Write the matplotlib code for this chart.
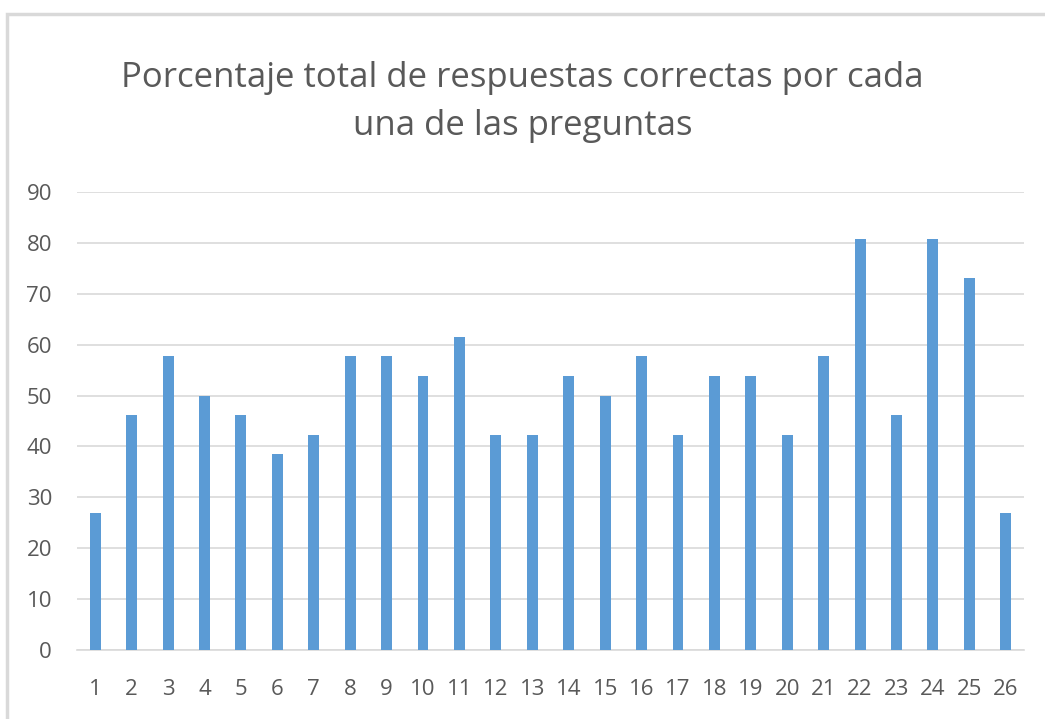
import matplotlib.pyplot as plt
from matplotlib.patches import Rectangle

# Data: percentage of correct answers per question
preguntas = [str(i) for i in range(1, 27)]
porcentaje = [26.9, 46.2, 57.7, 50.0, 46.2, 38.5, 42.3, 57.7, 57.7, 53.8,
              61.5, 42.3, 42.3, 53.8, 50.0, 57.7, 42.3, 53.8, 53.8, 42.3,
              57.7, 80.8, 46.2, 80.8, 73.1, 26.9]
yticks = list(range(0, 100, 10))

plt.rcParams['font.family'] = ['Open Sans', 'DejaVu Sans']
text_color = '#595959'
grid_color = '#d9d9d9'

fig = plt.figure(figsize=(10.45, 7.19), dpi=100)
ax = fig.add_axes([77 / 1045, 1 - 650 / 719, (1024 - 77) / 1045, (650 - 192) / 719])

x = range(len(preguntas))
ax.bar(x, porcentaje, width=0.30, color='#5b9bd5', zorder=3)

ax.set_xlim(-0.5, len(preguntas) - 0.5)
ax.set_ylim(0, 90)
ax.set_yticks(yticks)
ax.set_xticks(list(x))
ax.set_xticklabels(preguntas)
ax.yaxis.grid(True, color=grid_color, linewidth=1.2, zorder=0)
ax.tick_params(axis='both', length=0, labelsize=16, labelcolor=text_color)
ax.tick_params(axis='y', pad=18)
ax.tick_params(axis='x', pad=21)
for side in ['top', 'right', 'left']:
    ax.spines[side].set_visible(False)
ax.spines['bottom'].set_color(grid_color)
ax.spines['bottom'].set_linewidth(1.2)

fig.text(0.5, 1 - 102 / 719, 'Porcentaje total de respuestas correctas por cada\nuna de las preguntas',
         ha='center', va='center', fontsize=25, color=text_color, linespacing=1.52)

# chart border (extends past right/bottom edge of image)
fig.patches.append(Rectangle((7 / 1045, -0.05), 1.1, 1 - 14 / 719 + 0.05,
                             transform=fig.transFigure, fill=False,
                             edgecolor='#d9d9d9', linewidth=2.5))

fig.savefig('out.png', dpi=100)
